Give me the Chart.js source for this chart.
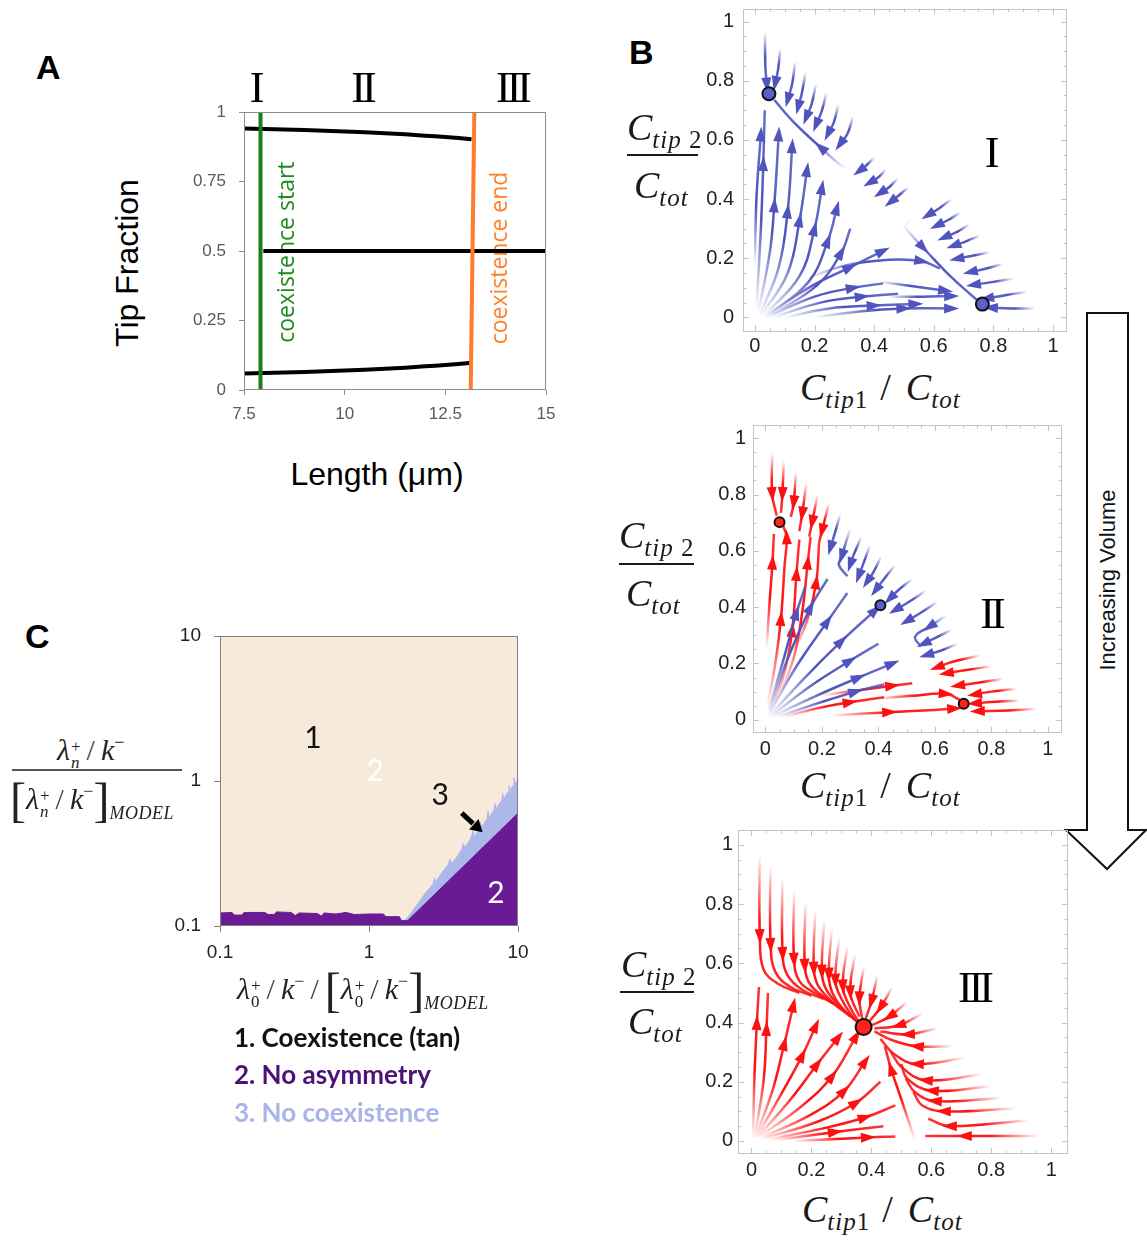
<!DOCTYPE html>
<html>
<head>
  <meta charset="utf-8">
  <title>Tip fraction vs. length, phase portraits and phase diagram</title>
  <script src="https://cdn.jsdelivr.net/npm/chart.js"></script>
  <style>
    html, body { margin: 0; padding: 0; background: #fff; overflow: hidden; }
    #page { position: relative; width: 1147px; height: 1240px; font-family: 'Liberation Sans', Arial, sans-serif; color: #111; }
    #page canvas { position: absolute; }
    .t { position: absolute; line-height: 1; white-space: nowrap; }
    .panel { font-weight: bold; font-size: 34px; color: #000; }
    .roman { font-family: 'Liberation Serif', 'DejaVu Serif', serif; font-size: 44px; letter-spacing: -4px; color: #000; transform: translateX(-50%); }
    .axt { font-size: 32px; color: #000; }
    .m { position: absolute; line-height: 1; white-space: nowrap; font-family: 'Liberation Serif', 'DejaVu Serif', serif; font-style: italic; font-size: 38px; color: #1a1a1a; }
    .m .s { font-size: 25px; vertical-align: -8px; letter-spacing: 1px; }
    .m .u { font-style: normal; }
    .m .sl { font-style: normal; margin: 0 15px 0 12px; }
    .bar { position: absolute; height: 2px; background: #1a1a1a; }
    .lam { font-family: 'Liberation Serif', 'DejaVu Serif', serif; font-style: italic; font-size: 30px; color: #222; }
    .lam .ss { display: inline-block; vertical-align: -8px; font-size: 17px; line-height: 0.95; margin-left: 1px; }
    .lam .ss span { display: block; }
    .lam .up { font-style: normal; }
    .lam .sp { font-style: normal; font-size: 18px; vertical-align: 12px; }
    .lam .sl { font-style: normal; margin: 0 6px; color: #444; }
    .lam .br { font-style: normal; font-size: 48px; vertical-align: -7px; }
    .lam .md { font-size: 18px; vertical-align: -10px; letter-spacing: 0.5px; }
    .legend { font-family: Lato, 'Open Sans', sans-serif; font-weight: bold; font-size: 26px; }
    .vol { font-size: 22px; color: #111; transform: translate(-50%, -50%) rotate(-90deg); }
  </style>
</head>
<body>
<div id="page">
  <svg width="90" height="570" style="position:absolute; left:1060px; top:308px">
    <polygon points="27,5 68,5 68,522 86,522 47,561 6,522 27,522" fill="#fff" stroke="#111" stroke-width="2"/>
  </svg>
  <div class="t vol" style="left:1108px; top:580px">Increasing Volume</div>

  <canvas id="chartA" width="400" height="340" style="left:180px; top:96px"></canvas>
  <canvas id="chartB1" width="400" height="365" style="left:690px; top:0px"></canvas>
  <canvas id="chartB2" width="400" height="365" style="left:690px; top:418px"></canvas>
  <canvas id="chartB3" width="400" height="365" style="left:690px; top:820px"></canvas>
  <canvas id="chartC" width="400" height="360" style="left:150px; top:620px"></canvas>

  <!-- panel A -->
  <div class="t panel" style="left:36px; top:50px">A</div>
  <div class="t roman" style="left:255px; top:66px">I</div>
  <div class="t roman" style="left:362px; top:66px">II</div>
  <div class="t roman" style="left:512px; top:66px">III</div>
  <div class="t axt" style="left:127px; top:263px; transform: translate(-50%, -50%) rotate(-90deg)">Tip Fraction</div>
  <div class="t axt" style="left:377px; top:458px; transform: translateX(-50%)">Length (μm)</div>

  <!-- panel B -->
  <div class="t panel" style="left:629px; top:35px">B</div>
  <div class="t roman" style="left:990px; top:131px">I</div>
  <div class="t roman" style="left:991px; top:592px">II</div>
  <div class="t roman" style="left:974px; top:966px">III</div>

  <div class="m" style="left:627px; top:108px">C<span class="s">tip <span class="u">2</span></span></div>
  <div class="bar" style="left:627px; top:154px; width:71px"></div>
  <div class="m" style="left:634px; top:166px">C<span class="s">tot</span></div>
  <div class="m" style="left:800px; top:368px">C<span class="s">tip<span class="u">1</span></span><span class="sl">/</span>C<span class="s">tot</span></div>

  <div class="m" style="left:619px; top:516px">C<span class="s">tip <span class="u">2</span></span></div>
  <div class="bar" style="left:619px; top:563px; width:75px"></div>
  <div class="m" style="left:626px; top:574px">C<span class="s">tot</span></div>
  <div class="m" style="left:800px; top:766px">C<span class="s">tip<span class="u">1</span></span><span class="sl">/</span>C<span class="s">tot</span></div>

  <div class="m" style="left:621px; top:945px">C<span class="s">tip <span class="u">2</span></span></div>
  <div class="bar" style="left:620px; top:991px; width:74px"></div>
  <div class="m" style="left:628px; top:1002px">C<span class="s">tot</span></div>
  <div class="m" style="left:802px; top:1190px">C<span class="s">tip<span class="u">1</span></span><span class="sl">/</span>C<span class="s">tot</span></div>

  <!-- panel C -->
  <div class="t panel" style="left:25px; top:619px">C</div>
  <div class="t lam" style="left:57px; top:733px">λ<span class="ss"><span class="up">+</span><span>n</span></span><span class="sl">/</span>k<span class="sp">−</span></div>
  <div class="bar" style="left:12px; top:769px; width:170px; background:#555"></div>
  <div class="t lam" style="left:10px; top:776px"><span class="br">[</span>λ<span class="ss"><span class="up">+</span><span>n</span></span><span class="sl">/</span>k<span class="sp">−</span><span class="br">]</span><span class="md">MODEL</span></div>
  <div class="t lam" style="left:237px; top:966px">λ<span class="ss"><span class="up">+</span><span class="up">0</span></span><span class="sl">/</span>k<span class="sp">−</span><span class="sl">/</span><span class="br">[</span>λ<span class="ss"><span class="up">+</span><span class="up">0</span></span><span class="sl">/</span>k<span class="sp">−</span><span class="br">]</span><span class="md">MODEL</span></div>
  <div class="t legend" style="left:234px; top:1024px; color:#111">1. Coexistence (tan)</div>
  <div class="t legend" style="left:234px; top:1061px; color:#4c1275">2. No asymmetry</div>
  <div class="t legend" style="left:234px; top:1099px; color:#a9b4e8">3. No coexistence</div>
</div>

<script>
  Chart.defaults.font.family = "'Liberation Sans', Arial, sans-serif";

  // ---------- A: tip fraction of the two branches vs. cell length ----------
  const lengthUm    = [7.5, 8, 9, 10, 11, 12, 12.5, 13.15];
  const upperTip    = [0.941, 0.939, 0.935, 0.930, 0.924, 0.915, 0.910, 0.902];
  const lowerTip    = [0.059, 0.061, 0.065, 0.070, 0.076, 0.085, 0.090, 0.098];
  const symLength   = [7.98, 15];
  const symTip      = [0.5, 0.5];
  const startLength = [7.91, 7.91];
  const endLength   = [13.13, 13.22];
  const edgeTip     = [0, 1];
  const lengthTicks = [7.5, 10, 12.5, 15];
  const tipTicks    = [0, 0.25, 0.5, 0.75, 1];

  // ---------- B: streamlines (x1,y1,x2,y2,...) and arrow positions ----------
  const fracTicks = [0, 0.2, 0.4, 0.6, 0.8, 1];

  const streamsI = [
    {p: [0.034,0.965, 0.035,0.85, 0.04,0.785], a: [2]},
    {p: [0.085,0.91, 0.078,0.84, 0.068,0.79], a: [2]},
    {p: [0.135,0.865, 0.125,0.79, 0.11,0.735], a: [2]},
    {p: [0.17,0.83, 0.158,0.76, 0.145,0.71], a: [2]},
    {p: [0.205,0.79, 0.19,0.72, 0.172,0.675], a: [2]},
    {p: [0.24,0.76, 0.225,0.70, 0.205,0.65], a: [2]},
    {p: [0.28,0.72, 0.265,0.66, 0.245,0.62], a: [2]},
    {p: [0.33,0.68, 0.31,0.62, 0.285,0.585], a: [2]},
    {p: [0.345,0.56, 0.33,0.52, 0.305,0.505, 0.22,0.575, 0.13,0.66, 0.065,0.735], a: [3]},
    {p: [0.40,0.54, 0.37,0.51, 0.35,0.495], a: [2]},
    {p: [0.44,0.50, 0.41,0.47, 0.385,0.455], a: [2]},
    {p: [0.48,0.47, 0.45,0.44, 0.42,0.42], a: [2]},
    {p: [0.515,0.44, 0.48,0.41, 0.455,0.39], a: [2]},
    {p: [0.545,0.355, 0.505,0.31, 0.515,0.29, 0.565,0.235, 0.66,0.135, 0.755,0.05], a: [3]},
    {p: [0.66,0.40, 0.62,0.37, 0.58,0.345], a: [2]},
    {p: [0.69,0.355, 0.65,0.33, 0.61,0.31], a: [2]},
    {p: [0.72,0.315, 0.68,0.29, 0.635,0.27], a: [2]},
    {p: [0.755,0.276, 0.71,0.258, 0.666,0.242], a: [2]},
    {p: [0.789,0.22, 0.73,0.208, 0.677,0.198], a: [2]},
    {p: [0.833,0.181, 0.78,0.166, 0.722,0.153], a: [2]},
    {p: [0.867,0.131, 0.80,0.12, 0.733,0.11], a: [2]},
    {p: [0.912,0.086, 0.84,0.075, 0.777,0.064], a: [2]},
    {p: [0.94,0.03, 0.86,0.03, 0.79,0.033], a: [2]},
    {p: [0.0,0.17, 0.005,0.40, 0.02,0.62], a: [2]},
    {p: [0.005,0.03, 0.02,0.30, 0.028,0.52, 0.033,0.70], a: [2]},
    {p: [0.01,0.01, 0.05,0.22, 0.065,0.38, 0.08,0.62], a: [2, 3]},
    {p: [0.015,0.005, 0.08,0.17, 0.11,0.36, 0.125,0.58], a: [2, 3]},
    {p: [0.02,0.005, 0.11,0.15, 0.15,0.33, 0.175,0.50], a: [2, 3]},
    {p: [0.03,0.005, 0.15,0.14, 0.20,0.30, 0.225,0.44], a: [2, 3]},
    {p: [0.04,0.005, 0.18,0.12, 0.245,0.26, 0.275,0.37], a: [2, 3]},
    {p: [0.05,0.005, 0.21,0.11, 0.29,0.22, 0.32,0.30], a: [2]},
    {p: [0.03,0.0, 0.18,0.10, 0.32,0.17, 0.43,0.225], a: [2, 3]},
    {p: [0.04,0.0, 0.20,0.07, 0.33,0.10, 0.43,0.115], a: [2]},
    {p: [0.06,0.0, 0.22,0.05, 0.36,0.07, 0.48,0.08], a: [2]},
    {p: [0.10,0.0, 0.25,0.03, 0.40,0.04, 0.54,0.045], a: [2, 3]},
    {p: [0.20,0.0, 0.35,0.02, 0.50,0.03, 0.66,0.03], a: [2, 3]},
    {p: [0.17,0.13, 0.30,0.175, 0.45,0.195, 0.56,0.19, 0.62,0.165], a: [3]},
    {p: [0.42,0.12, 0.53,0.105, 0.64,0.09], a: [2]},
    {p: [0.45,0.07, 0.56,0.07, 0.66,0.072], a: [2]}
  ];
  const fixedI = [[0.047, 0.756], [0.763, 0.045]];

  const streamsIIRed = [
    {p: [0.004,0.25, 0.015,0.42, 0.025,0.56, 0.03,0.66], a: [2]},
    {p: [0.006,0.04, 0.035,0.20, 0.055,0.36, 0.068,0.55, 0.075,0.65, 0.062,0.69], a: [2, 4]},
    {p: [0.02,0.03, 0.07,0.18, 0.095,0.32, 0.11,0.52, 0.12,0.64], a: [2, 3]},
    {p: [0.05,0.09, 0.10,0.22, 0.13,0.38, 0.15,0.56, 0.16,0.65], a: [3]},
    {p: [0.10,0.24, 0.15,0.36, 0.18,0.49, 0.19,0.63], a: [2]},
    {p: [0.024,0.95, 0.024,0.80, 0.04,0.725], a: [1]},
    {p: [0.065,0.92, 0.06,0.80, 0.055,0.735], a: [1]},
    {p: [0.108,0.88, 0.10,0.77, 0.09,0.72], a: [1]},
    {p: [0.145,0.84, 0.13,0.73, 0.12,0.67], a: [1]},
    {p: [0.185,0.80, 0.165,0.70, 0.155,0.65], a: [1]},
    {p: [0.225,0.77, 0.20,0.67, 0.19,0.63], a: [1]},
    {p: [0.065,0.01, 0.18,0.04, 0.30,0.062, 0.42,0.08], a: [2]},
    {p: [0.23,0.015, 0.44,0.027, 0.60,0.035, 0.67,0.04], a: [1, 3]},
    {p: [0.20,0.086, 0.33,0.105, 0.45,0.121, 0.52,0.13], a: [2]},
    {p: [0.40,0.075, 0.52,0.085, 0.64,0.092, 0.69,0.07], a: [2]},
    {p: [0.96,0.039, 0.86,0.033, 0.75,0.03], a: [2]},
    {p: [0.90,0.068, 0.80,0.063, 0.74,0.058], a: [2]},
    {p: [0.89,0.11, 0.80,0.10, 0.74,0.09], a: [2]},
    {p: [0.843,0.145, 0.74,0.13, 0.68,0.121], a: [2]},
    {p: [0.80,0.19, 0.70,0.175, 0.64,0.165], a: [2]},
    {p: [0.76,0.228, 0.66,0.205, 0.607,0.186], a: [2]}
  ];
  const streamsIIBlue = [
    {p: [0.01,0.02, 0.08,0.22, 0.16,0.40, 0.22,0.50], a: [2]},
    {p: [0.01,0.015, 0.11,0.19, 0.22,0.35, 0.29,0.45], a: [2]},
    {p: [0.012,0.012, 0.14,0.15, 0.27,0.28, 0.39,0.39], a: [2, 3]},
    {p: [0.015,0.01, 0.16,0.12, 0.30,0.21, 0.40,0.27], a: [2]},
    {p: [0.02,0.01, 0.18,0.085, 0.33,0.15, 0.45,0.20], a: [2, 3]},
    {p: [0.04,0.01, 0.19,0.06, 0.32,0.10, 0.42,0.125], a: [2]},
    {p: [0.01,0.03, 0.06,0.20, 0.11,0.38, 0.14,0.47], a: [2]},
    {p: [0.265,0.73, 0.245,0.66, 0.23,0.61], a: [2]},
    {p: [0.30,0.68, 0.27,0.58, 0.26,0.55, 0.29,0.51], a: [1]},
    {p: [0.34,0.65, 0.31,0.58, 0.30,0.55], a: [2]},
    {p: [0.37,0.62, 0.345,0.55, 0.33,0.51], a: [2]},
    {p: [0.41,0.58, 0.38,0.52, 0.36,0.49], a: [2]},
    {p: [0.46,0.55, 0.42,0.50, 0.39,0.46], a: [2]},
    {p: [0.52,0.50, 0.47,0.46, 0.44,0.43], a: [2]},
    {p: [0.57,0.46, 0.51,0.42, 0.46,0.39], a: [2]},
    {p: [0.61,0.42, 0.55,0.38, 0.50,0.35], a: [2]},
    {p: [0.64,0.37, 0.58,0.33, 0.53,0.295, 0.55,0.26], a: [1]},
    {p: [0.66,0.32, 0.60,0.29, 0.56,0.27], a: [2]},
    {p: [0.68,0.27, 0.62,0.245, 0.57,0.23], a: [2]}
  ];
  const fixedIIRed = [[0.05, 0.702], [0.702, 0.057]];
  const fixedIIBlue = [[0.407, 0.407]];

  const streamsIII = [
    {p: [0.027,0.97, 0.028,0.69, 0.04,0.58, 0.09,0.53, 0.16,0.50], a: [1]},
    {p: [0.063,0.935, 0.064,0.66, 0.08,0.57, 0.13,0.52, 0.20,0.49], a: [1]},
    {p: [0.103,0.89, 0.104,0.63, 0.12,0.56, 0.17,0.51, 0.24,0.48], a: [1]},
    {p: [0.142,0.85, 0.142,0.61, 0.16,0.54, 0.21,0.50, 0.28,0.46], a: [1]},
    {p: [0.18,0.81, 0.178,0.59, 0.195,0.53, 0.25,0.48, 0.31,0.44], a: [1]},
    {p: [0.213,0.78, 0.208,0.58, 0.225,0.52, 0.28,0.46, 0.33,0.42], a: [1]},
    {p: [0.243,0.75, 0.235,0.57, 0.25,0.51, 0.30,0.45, 0.345,0.41], a: [1]},
    {p: [0.268,0.72, 0.258,0.56, 0.27,0.50, 0.31,0.44, 0.35,0.405], a: [1]},
    {p: [0.293,0.69, 0.28,0.54, 0.30,0.48, 0.33,0.43, 0.355,0.40], a: [1]},
    {p: [0.32,0.66, 0.305,0.52, 0.33,0.45, 0.36,0.40], a: [1]},
    {p: [0.345,0.63, 0.33,0.50, 0.36,0.42], a: [1]},
    {p: [0.375,0.59, 0.36,0.48, 0.37,0.41], a: [1]},
    {p: [0.42,0.56, 0.40,0.47, 0.38,0.41], a: [1]},
    {p: [0.47,0.52, 0.43,0.45, 0.39,0.40], a: [1]},
    {p: [0.52,0.47, 0.46,0.42, 0.40,0.39], a: [1]},
    {p: [0.57,0.43, 0.49,0.39, 0.41,0.38], a: [1]},
    {p: [0.62,0.38, 0.52,0.36, 0.43,0.37], a: [1]},
    {p: [0.67,0.32, 0.55,0.32, 0.47,0.34, 0.41,0.37], a: [1]},
    {p: [0.71,0.28, 0.55,0.26, 0.48,0.29, 0.43,0.345], a: [1]},
    {p: [0.77,0.225, 0.58,0.205, 0.50,0.25, 0.465,0.30], a: [1]},
    {p: [0.80,0.185, 0.60,0.17, 0.52,0.21, 0.50,0.26], a: [1]},
    {p: [0.835,0.145, 0.61,0.135, 0.545,0.165, 0.515,0.21], a: [1]},
    {p: [0.88,0.11, 0.64,0.10, 0.57,0.12, 0.54,0.165], a: [1]},
    {p: [0.925,0.07, 0.66,0.05, 0.59,0.075], a: [1]},
    {p: [0.96,0.017, 0.71,0.017, 0.58,0.017], a: [1]},
    {p: [0.545,0.005, 0.52,0.08, 0.49,0.17, 0.465,0.245, 0.445,0.32], a: [3]},
    {p: [0.005,0.01, 0.01,0.22, 0.018,0.40, 0.025,0.52], a: [2]},
    {p: [0.01,0.01, 0.04,0.20, 0.05,0.38, 0.055,0.50], a: [2]},
    {p: [0.012,0.01, 0.07,0.17, 0.11,0.33, 0.14,0.46], a: [2, 3]},
    {p: [0.015,0.01, 0.10,0.16, 0.17,0.29, 0.215,0.39], a: [2, 3]},
    {p: [0.018,0.01, 0.13,0.14, 0.22,0.26, 0.29,0.35], a: [2, 3]},
    {p: [0.02,0.01, 0.17,0.12, 0.27,0.22, 0.35,0.355], a: [2, 3]},
    {p: [0.025,0.008, 0.20,0.09, 0.31,0.17, 0.38,0.27], a: [2, 3]},
    {p: [0.03,0.006, 0.22,0.065, 0.35,0.13, 0.43,0.20], a: [2]},
    {p: [0.05,0.004, 0.25,0.045, 0.38,0.08, 0.48,0.12], a: [2]},
    {p: [0.08,0.003, 0.28,0.03, 0.44,0.05], a: [1]},
    {p: [0.14,0.0, 0.39,0.012, 0.48,0.015], a: [1]}
  ];
  const fixedIII = [[0.374, 0.385]];

  // ---------- C: phase diagram boundaries (log-log) ----------
  const purpleX = [0.1, 0.12, 0.125, 0.14, 0.145, 0.2, 0.21, 0.23, 0.24, 0.3, 0.32, 0.34, 0.45, 0.48, 0.5, 0.6, 0.7, 0.8, 1.0, 1.25, 1.3, 1.6, 1.65, 1.82, 10];
  const purpleY = [0.123, 0.124, 0.119, 0.119, 0.124, 0.124, 0.12, 0.12, 0.125, 0.124, 0.118, 0.123, 0.122, 0.117, 0.123, 0.121, 0.124, 0.12, 0.121, 0.121, 0.116, 0.116, 0.109, 0.109, 0.60];
  const blueX = [1.6, 1.85, 2.1, 2.4, 2.7, 2.75, 2.8, 3.1, 3.4, 3.5, 3.6, 3.9, 4.2, 4.3, 4.4, 4.8, 5.0, 5.1, 5.5, 5.6, 5.7, 6.2, 6.3, 6.4, 6.9, 7.0, 7.1, 7.8, 7.9, 8.0, 8.6, 8.7, 8.8, 9.3, 9.4, 9.5, 9.9, 10];
  const blueY = [0.1, 0.117, 0.14, 0.17, 0.195, 0.215, 0.2, 0.235, 0.265, 0.29, 0.27, 0.30, 0.34, 0.37, 0.345, 0.40, 0.45, 0.41, 0.47, 0.52, 0.48, 0.55, 0.62, 0.56, 0.63, 0.70, 0.64, 0.74, 0.82, 0.75, 0.84, 0.93, 0.86, 0.93, 1.05, 0.96, 1.0, 1.1];
  const ratioTicks = [0.1, 1, 10];

  // ---------- helpers ----------
  const pairs = (xs, ys) => xs.map((x, i) => ({x, y: ys[i]}));
  const flatPts = (p) => { const out = []; for (let i = 0; i < p.length; i += 2) out.push({x: p[i], y: p[i + 1]}); return out; };

  // stroke that fades in from the tail of each streamline
  function fade(rgb) {
    return (c) => {
      const chart = c.chart;
      if (c.type !== 'dataset' || !chart.chartArea) return `rgb(${rgb})`;
      const d = c.dataset.data, s = d[0], e = d[d.length - 1];
      const {x, y} = chart.scales;
      const g = chart.ctx.createLinearGradient(x.getPixelForValue(s.x), y.getPixelForValue(s.y), x.getPixelForValue(e.x), y.getPixelForValue(e.y));
      g.addColorStop(0, `rgba(${rgb},0)`);
      g.addColorStop(0.45, `rgba(${rgb},1)`);
      g.addColorStop(1, `rgba(${rgb},0.85)`);
      return g;
    };
  }

  function streamSets(list, rgb) {
    return list.map(s => ({
      data: flatPts(s.p), showLine: true, tension: 0.4, pointRadius: 0, borderWidth: 2.5,
      borderColor: fade(rgb), arrows: s.a, headColor: `rgb(${rgb})`
    }));
  }

  function fixedSet(pts, fill, r) {
    return {
      data: pts.map(([x, y]) => ({x, y})), showLine: false, pointRadius: r,
      pointBackgroundColor: fill, pointBorderColor: '#111', pointBorderWidth: 2
    };
  }

  function drawHead(ctx, x, y, ang, len, half, color) {
    ctx.save();
    ctx.translate(x, y);
    ctx.rotate(ang);
    ctx.beginPath();
    ctx.moveTo(len * 0.5, 0);
    ctx.lineTo(-len * 0.5, -half);
    ctx.lineTo(-len * 0.5, half);
    ctx.closePath();
    ctx.fillStyle = color;
    ctx.fill();
    ctx.restore();
  }

  // arrowheads along streamlines, following the curve tangent
  const arrowHeads = {
    id: 'arrowHeads',
    afterDatasetDraw(chart, args) {
      const ds = chart.data.datasets[args.index];
      if (!ds.arrows) return;
      const pts = args.meta.data;
      ds.arrows.forEach(i => {
        const p = pts[i], q = pts[i - 1];
        let dx = p.x - (p.cp1x ?? q.x), dy = p.y - (p.cp1y ?? q.y);
        if (Math.hypot(dx, dy) < 0.5) { dx = p.x - q.x; dy = p.y - q.y; }
        drawHead(chart.ctx, p.x, p.y, Math.atan2(dy, dx), 15, 5, ds.headColor);
      });
    }
  };

  // box round the plot area, optionally with inward minor ticks
  const frame = {
    id: 'frame',
    afterDraw(chart, args, opts) {
      const {ctx, chartArea: a} = chart;
      ctx.save();
      ctx.strokeStyle = opts.color || '#888';
      ctx.lineWidth = 1;
      ctx.strokeRect(Math.round(a.left) + 0.5, Math.round(a.top) + 0.5, Math.round(a.width) - 1, Math.round(a.height) - 1);
      if (opts.minor) {
        const {x, y} = chart.scales;
        ctx.beginPath();
        for (let i = 0; i <= 20; i++) {
          const v = i / 20, len = i % 4 === 0 ? 6 : 3.5;
          const px = Math.round(x.getPixelForValue(v)) + 0.5, py = Math.round(y.getPixelForValue(v)) + 0.5;
          ctx.moveTo(px, a.bottom); ctx.lineTo(px, a.bottom - len);
          ctx.moveTo(px, a.top); ctx.lineTo(px, a.top + len);
          ctx.moveTo(a.left, py); ctx.lineTo(a.left + len, py);
          ctx.moveTo(a.right, py); ctx.lineTo(a.right - len, py);
        }
        ctx.stroke();
      }
      ctx.restore();
    }
  };

  function axis(cfg) {
    return {
      type: cfg.type || 'linear', min: cfg.min, max: cfg.max,
      afterBuildTicks: s => { s.ticks = cfg.ticks.map(v => ({value: v})); },
      afterFit: s => {
        if (cfg.w !== undefined) s.width = cfg.w;
        if (cfg.h !== undefined) s.height = cfg.h;
        s.paddingTop = 0; s.paddingBottom = 0; s.paddingLeft = 0; s.paddingRight = 0;
      },
      grid: cfg.grid || {display: false, drawTicks: false},
      border: {display: false},
      ticks: {padding: cfg.pad, font: {size: cfg.size}, color: cfg.color, autoSkip: false, maxRotation: 0, callback: v => String(v)}
    };
  }

  const baseOptions = (pad) => ({
    responsive: false, animation: false, events: [],
    layout: {padding: {top: pad.top, right: pad.right, left: 0, bottom: 0}},
    plugins: {legend: {display: false}, tooltip: {enabled: false}}
  });

  // ---------- A ----------
  const coexNotes = {
    id: 'coexNotes',
    beforeDatasetsDraw(chart) {
      const {ctx, scales: {x, y}} = chart;
      ctx.save();
      ctx.font = '23px "Open Sans", sans-serif';
      ctx.textAlign = 'center';
      ctx.textBaseline = 'middle';
      [['coexistence start', 8.59, 0.496, '#1e8a1e'], ['coexistence end', 13.86, 0.475, '#ff7f27']].forEach(([t, vx, vy, col]) => {
        ctx.save();
        ctx.translate(x.getPixelForValue(vx), y.getPixelForValue(vy));
        ctx.rotate(-Math.PI / 2);
        ctx.fillStyle = col;
        ctx.fillText(t, 0, 0);
        ctx.restore();
      });
      ctx.restore();
    }
  };

  const tickGridA = {display: true, drawOnChartArea: false, drawTicks: true, tickLength: 5, color: '#8c8c8c'};
  const optsA = baseOptions({top: 16, right: 34});
  optsA.plugins.frame = {color: '#8c8c8c'};
  optsA.scales = {
    x: axis({min: 7.5, max: 15, ticks: lengthTicks, h: 46, pad: 9, size: 17, color: '#595959', grid: tickGridA}),
    y: axis({min: 0, max: 1, ticks: tipTicks, w: 64, pad: 13, size: 17, color: '#595959', grid: tickGridA})
  };
  new Chart(document.getElementById('chartA'), {
    type: 'scatter',
    data: {
      datasets: [
        {data: pairs(startLength, edgeTip), showLine: true, borderColor: '#15801a', borderWidth: 4, pointRadius: 0},
        {data: pairs(endLength, edgeTip), showLine: true, borderColor: '#ff7b2e', borderWidth: 4, pointRadius: 0},
        {data: pairs(lengthUm, upperTip), showLine: true, tension: 0.3, borderColor: '#000', borderWidth: 4, pointRadius: 0},
        {data: pairs(lengthUm, lowerTip), showLine: true, tension: 0.3, borderColor: '#000', borderWidth: 4, pointRadius: 0},
        {data: pairs(symLength, symTip), showLine: true, borderColor: '#000', borderWidth: 4, pointRadius: 0}
      ]
    },
    options: optsA,
    plugins: [coexNotes, frame]
  });

  // ---------- B ----------
  function streamChart(id, datasets, xr, yr, box) {
    const opts = baseOptions({top: box.top, right: box.right});
    opts.plugins.frame = {color: '#c4c4c4', minor: true};
    opts.scales = {
      x: axis({min: xr[0], max: xr[1], ticks: fracTicks, h: box.xh, pad: box.xpad, size: 20, color: '#222'}),
      y: axis({min: yr[0], max: yr[1], ticks: fracTicks, w: box.yw, pad: box.ypad, size: 20, color: '#222'})
    };
    return new Chart(document.getElementById(id), {
      type: 'scatter', data: {datasets}, options: opts, plugins: [frame, arrowHeads]
    });
  }

  const BLUE = '80,84,190', RED = '255,16,16';

  streamChart('chartB1',
    [fixedSet(fixedI, '#5a5fc9', 6.5), ...streamSets(streamsI, BLUE)],
    [-0.040, 1.047], [-0.046, 1.044],
    {top: 6, right: 23, yw: 53, xh: 34, ypad: 9, xpad: 3});

  streamChart('chartB2',
    [fixedSet(fixedIIRed, '#ff2020', 5), fixedSet(fixedIIBlue, '#5a5fc9', 5), ...streamSets(streamsIIBlue, BLUE), ...streamSets(streamsIIRed, RED)],
    [-0.044, 1.050], [-0.047, 1.047],
    {top: 6, right: 28, yw: 63, xh: 50, ypad: 7, xpad: 4});

  streamChart('chartB3',
    [fixedSet(fixedIII, '#ff2020', 8), ...streamSets(streamsIII, RED)],
    [-0.045, 1.056], [-0.044, 1.050],
    {top: 7, right: 22, yw: 48, xh: 31, ypad: 5, xpad: 4});

  // ---------- C ----------
  const phaseNotes = {
    id: 'phaseNotes',
    beforeDatasetsDraw(chart) {
      const {ctx, chartArea: a} = chart;
      ctx.save();
      ctx.fillStyle = '#f7eadb';
      ctx.fillRect(a.left, a.top, a.width, a.height);
      ctx.restore();
    },
    afterDatasetsDraw(chart) {
      const {ctx, scales: {x, y}} = chart;
      const at = (vx, vy) => [x.getPixelForValue(vx), y.getPixelForValue(vy)];
      ctx.save();
      ctx.font = '30px Lato, "Open Sans", sans-serif';
      ctx.textAlign = 'center';
      ctx.textBaseline = 'middle';
      [['1', 0.42, 1.98, '#111'], ['2', 1.1, 1.17, '#fff'], ['3', 3.0, 0.80, '#111'], ['2', 7.1, 0.169, '#fff']].forEach(([t, vx, vy, col]) => {
        const [px, py] = at(vx, vy);
        ctx.fillStyle = col;
        ctx.fillText(t, px, py);
      });
      // pointer to the thin "no coexistence" band
      const [x0, y0] = at(4.19, 0.60), [x1, y1] = at(5.41, 0.472);
      const ang = Math.atan2(y1 - y0, x1 - x0);
      ctx.strokeStyle = '#000';
      ctx.lineWidth = 5;
      ctx.beginPath();
      ctx.moveTo(x0, y0);
      ctx.lineTo(x1 - 7 * Math.cos(ang), y1 - 7 * Math.sin(ang));
      ctx.stroke();
      drawHead(ctx, x1, y1, ang, 12, 7, '#000');
      ctx.restore();
    }
  };

  const tickGridC = {display: true, drawOnChartArea: false, drawTicks: true, tickLength: 6, color: '#7f7f7f'};
  const optsC = baseOptions({top: 16, right: 32});
  optsC.plugins.frame = {color: '#7f7f7f'};
  optsC.scales = {
    x: axis({type: 'logarithmic', min: 0.1, max: 10, ticks: ratioTicks, h: 54, pad: 9, size: 19, color: '#222', grid: tickGridC}),
    y: axis({type: 'logarithmic', min: 0.1, max: 10, ticks: ratioTicks, w: 70, pad: 13, size: 19, color: '#222', grid: tickGridC})
  };
  new Chart(document.getElementById('chartC'), {
    type: 'scatter',
    data: {
      datasets: [
        {data: pairs(purpleX, purpleY), showLine: true, fill: 'start', backgroundColor: '#6b1a96', borderColor: '#6b1a96', borderWidth: 1, pointRadius: 0},
        {data: pairs(blueX, blueY), showLine: true, fill: 'start', backgroundColor: '#adb8ea', borderColor: '#adb8ea', borderWidth: 1, pointRadius: 0}
      ]
    },
    options: optsC,
    plugins: [phaseNotes, frame]
  });
</script>
</body>
</html>
